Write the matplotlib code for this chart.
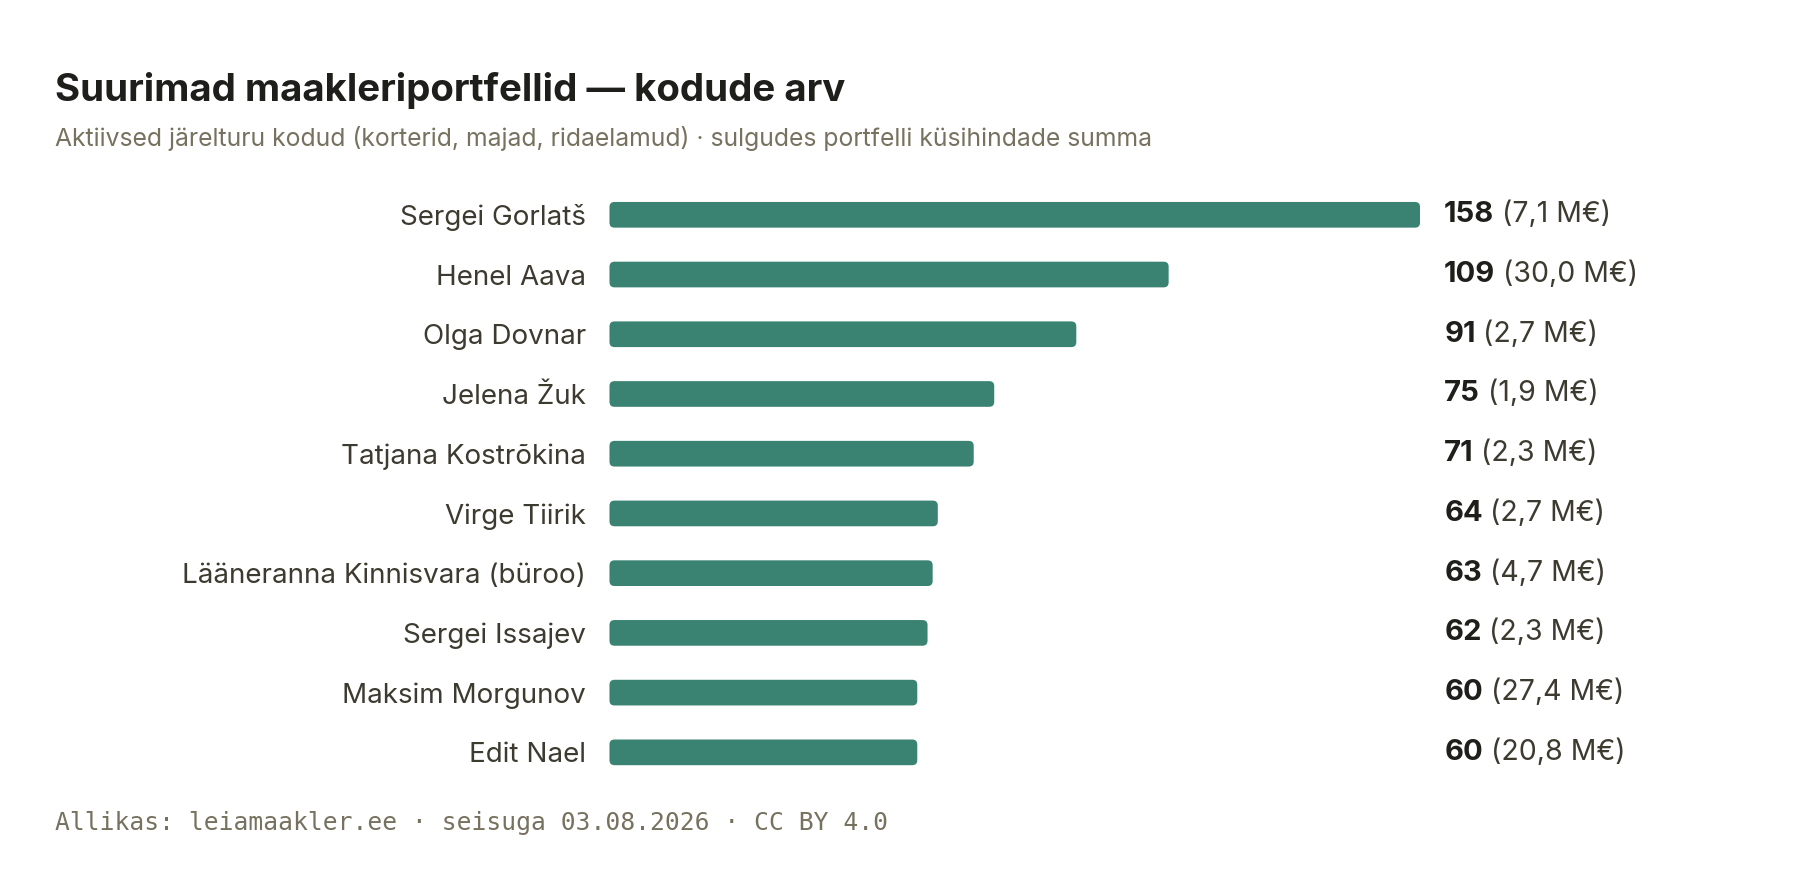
import matplotlib
matplotlib.use("Agg")
import matplotlib.pyplot as plt
from matplotlib.patches import FancyBboxPatch

# data
names = [
    "Sergei Gorlatš",
    "Henel Aava",
    "Olga Dovnar",
    "Jelena Žuk",
    "Tatjana Kostrõkina",
    "Virge Tiirik",
    "Lääneranna Kinnisvara (büroo)",
    "Sergei Issajev",
    "Maksim Morgunov",
    "Edit Nael",
]
homes = [158, 109, 91, 75, 71, 64, 63, 62, 60, 60]
value_meur = [7.1, 30.0, 2.7, 1.9, 2.3, 2.7, 4.7, 2.3, 27.4, 20.8]

title = "Suurimad maakleriportfellid — kodude arv"
subtitle = ("Aktiivsed järelturu kodud (korterid, majad, ridaelamud) · "
            "sulgudes portfelli küsihindade summa")
footer = "Allikas: leiamaakler.ee · seisuga 03.08.2026 · CC BY 4.0"

BAR = "#3a8272"
INK = "#1e1e1a"
LABEL = "#3d3a30"
MUTED = "#77725f"

plt.rcParams["font.family"] = ["Inter", "DejaVu Sans"]

fig = plt.figure(figsize=(18, 8.96), dpi=100)
fig.patch.set_facecolor("white")

ax_left, ax_width = 0.3386, 0.4503
ax = fig.add_axes([ax_left, 0.127, ax_width, 0.6666])
ax.set_xlim(0, max(homes))
ax.set_ylim(len(names) - 0.5, -0.5)
for s in ax.spines.values():
    s.set_visible(False)
ax.set_xticks([])
ax.set_yticks(range(len(names)))
ax.set_yticklabels(names, fontsize=20, color=LABEL)
ax.tick_params(axis="y", length=0, pad=17)

# rounded bars: correct rounding for unequal x / y pixel scales
fig.canvas.draw()
px_x = ax.transData.transform((1, 0))[0] - ax.transData.transform((0, 0))[0]
px_y = abs(ax.transData.transform((0, 1))[1] - ax.transData.transform((0, 0))[1])
aspect = px_x / px_y
bar_h = 0.43
r = 5 / px_x
for i, n in enumerate(homes):
    p = FancyBboxPatch((0, i - bar_h / 2), n, bar_h,
                       boxstyle=f"round,pad=0,rounding_size={r}",
                       mutation_aspect=aspect, fc=BAR, ec="none")
    ax.add_patch(p)

# value labels at a fixed column right of the bars
val_x = (0.8023 - ax_left) / ax_width
for i, (n, v) in enumerate(zip(homes, value_meur)):
    t = ax.text(val_x, i, str(n), transform=ax.get_yaxis_transform(),
                fontsize=21, fontweight="bold", color=INK,
                va="center", ha="left")
    ax.annotate("(" + f"{v:.1f}".replace(".", ",") + " M€)",
                xy=(1, 0), xycoords=t, xytext=(5.5, 0),
                textcoords="offset points", va="bottom", ha="left",
                fontsize=20.5, color=LABEL)

fig.text(0.0306, 0.887, title, fontsize=27.7, fontweight="bold", color=INK,
         va="baseline", ha="left")
fig.text(0.0306, 0.837, subtitle, fontsize=17.8, color=MUTED,
         va="baseline", ha="left")
fig.text(0.0306, 0.074, footer, fontsize=17.7, color=MUTED,
         family="DejaVu Sans Mono", va="baseline", ha="left")

fig.savefig("out.png", dpi=100, facecolor="white")
